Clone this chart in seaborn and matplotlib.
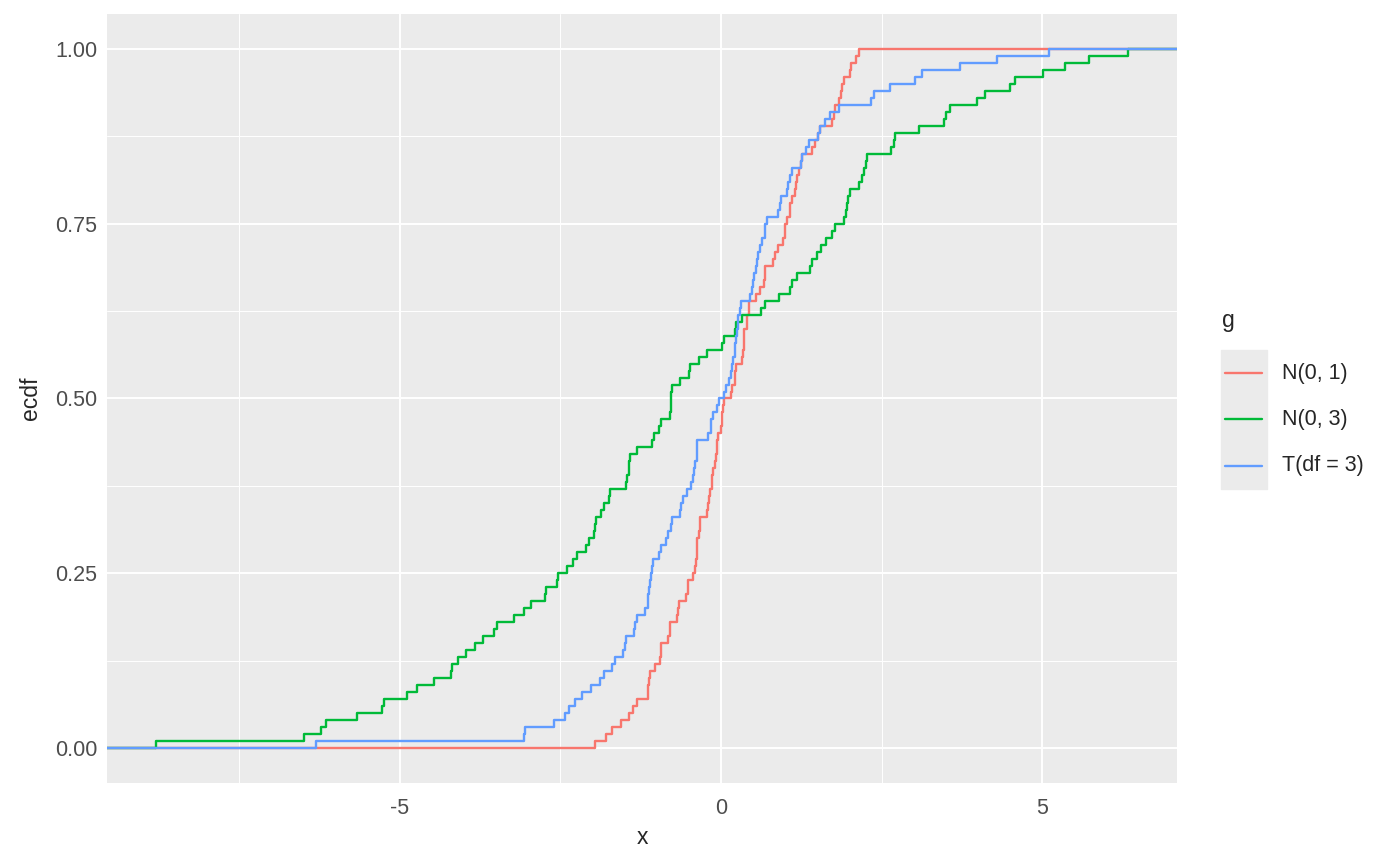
import numpy as np
import pandas as pd
import matplotlib
matplotlib.use("Agg")
import matplotlib.pyplot as plt
from matplotlib.lines import Line2D
import seaborn as sns

# values (100 points per group)
n01 = [-1.96, -1.79, -1.69, -1.56, -1.44, -1.37, -1.31, -1.14, -1.13, -1.12,
       -1.11, -1.03, -0.95, -0.94, -0.93, -0.83, -0.80, -0.79, -0.68, -0.67,
       -0.66, -0.54, -0.52, -0.51, -0.44, -0.40, -0.39, -0.38, -0.375, -0.37,
       -0.34, -0.335, -0.33, -0.22, -0.21, -0.18, -0.17, -0.14, -0.135, -0.13,
       -0.09, -0.08, -0.07, -0.06, -0.05, 0.00, 0.01, 0.02, 0.03, 0.04,
       0.16, 0.17, 0.22, 0.225, 0.23, 0.32, 0.34, 0.35, 0.355, 0.36,
       0.40, 0.41, 0.43, 0.44, 0.55, 0.60, 0.67, 0.68, 0.69, 0.81,
       0.84, 0.88, 0.96, 0.99, 1.00, 1.03, 1.07, 1.08, 1.10, 1.15,
       1.17, 1.19, 1.22, 1.25, 1.26, 1.41, 1.46, 1.51, 1.54, 1.72,
       1.76, 1.77, 1.83, 1.87, 1.88, 1.91, 2.00, 2.03, 2.10, 2.15]

n03 = [-8.80, -6.49, -6.23, -6.15, -5.66, -5.27, -5.24, -4.88, -4.73, -4.46,
       -4.21, -4.19, -4.10, -3.97, -3.83, -3.70, -3.53, -3.48, -3.23, -3.06,
       -2.96, -2.74, -2.72, -2.56, -2.53, -2.39, -2.30, -2.24, -2.10, -2.06,
       -1.98, -1.96, -1.94, -1.87, -1.82, -1.75, -1.73, -1.48, -1.47, -1.44,
       -1.43, -1.42, -1.31, -1.08, -1.04, -0.96, -0.93, -0.79, -0.785, -0.78,
       -0.775, -0.77, -0.64, -0.50, -0.48, -0.34, -0.22, 0.01, 0.04, 0.22,
       0.24, 0.32, 0.62, 0.69, 0.90, 1.07, 1.11, 1.19, 1.38, 1.41,
       1.49, 1.55, 1.63, 1.72, 1.77, 1.91, 1.94, 1.96, 1.98, 2.01,
       2.15, 2.19, 2.23, 2.25, 2.27, 2.65, 2.69, 2.71, 3.08, 3.47,
       3.50, 3.56, 3.99, 4.11, 4.49, 4.57, 5.01, 5.35, 5.72, 6.34]

t3 = [-6.30, -3.06, -3.05, -2.60, -2.43, -2.37, -2.27, -2.17, -2.03, -1.88,
      -1.82, -1.69, -1.65, -1.53, -1.49, -1.48, -1.36, -1.34, -1.31, -1.18,
      -1.14, -1.13, -1.12, -1.10, -1.09, -1.07, -1.06, -0.96, -0.94, -0.86,
      -0.83, -0.78, -0.77, -0.64, -0.63, -0.59, -0.53, -0.46, -0.43, -0.42,
      -0.40, -0.38, -0.375, -0.37, -0.20, -0.16, -0.15, -0.12, -0.07, -0.03,
      0.04, 0.08, 0.12, 0.15, 0.17, 0.19, 0.22, 0.225, 0.24, 0.245,
      0.26, 0.265, 0.30, 0.31, 0.45, 0.48, 0.50, 0.51, 0.55, 0.56,
      0.57, 0.61, 0.63, 0.68, 0.69, 0.71, 0.89, 0.92, 0.93, 1.02,
      1.05, 1.07, 1.10, 1.25, 1.26, 1.33, 1.37, 1.51, 1.54, 1.62,
      1.70, 1.83, 2.33, 2.38, 2.63, 3.02, 3.13, 3.72, 4.30, 5.11]

groups = ["N(0, 1)", "N(0, 3)", "T(df = 3)"]
colors = ["#F8766D", "#00BA38", "#619CFF"]
x_ticks = [-5, 0, 5]
y_ticks = [0.0, 0.25, 0.5, 0.75, 1.0]
y_labels = ["0.00", "0.25", "0.50", "0.75", "1.00"]

df = pd.DataFrame({
    "x": n01 + n03 + t3,
    "g": [groups[0]] * len(n01) + [groups[1]] * len(n03) + [groups[2]] * len(t3),
})

sns.set_style("darkgrid", {"axes.facecolor": "#EBEBEB", "grid.color": "white"})
plt.rcParams["font.family"] = ["Liberation Sans", "DejaVu Sans"]
plt.rcParams["axes.unicode_minus"] = False

fig = plt.figure(figsize=(14, 8.66), dpi=100)
ax = fig.add_axes([107 / 1400, 1 - 783 / 866, (1177 - 107) / 1400, (783 - 14) / 866])

# ggplot-style 5% expansion
lo, hi = df["x"].min(), df["x"].max()
pad = (hi - lo) * 0.05
xmin, xmax = lo - pad, hi + pad

for g, c in zip(groups, colors):
    sub = df[df["g"] == g]
    sns.ecdfplot(data=sub, x="x", color=c, lw=1.7, ax=ax)
    # stat_ecdf pads the steps out to -Inf / Inf
    ax.hlines(0, xmin, sub["x"].min(), color=c, lw=1.7)
    ax.hlines(1, sub["x"].max(), xmax, color=c, lw=1.7)

ax.set_xlim(xmin, xmax)
ax.set_ylim(-0.05, 1.05)
ax.set_xticks(x_ticks)
ax.set_xticklabels([str(v) for v in x_ticks])
ax.set_yticks(y_ticks)
ax.set_yticklabels(y_labels)
ax.set_xticks([-7.5, -2.5, 2.5], minor=True)
ax.set_yticks([0.125, 0.375, 0.625, 0.875], minor=True)
ax.grid(which="major", color="white", lw=1.4)
ax.grid(which="minor", color="white", lw=0.7)
ax.tick_params(which="major", length=4, width=1.1, color="#333333",
               labelsize=15.5, labelcolor="#4D4D4D")
ax.tick_params(axis="x", pad=7)
ax.tick_params(axis="y", pad=3)
ax.tick_params(which="minor", length=0)
for s in ax.spines.values():
    s.set_visible(False)
ax.set_xlabel("x", fontsize=16.5, va="center")
ax.set_ylabel("ecdf", fontsize=16.5, va="center")
ax.xaxis.set_label_coords(0.5, (783 - 838) / 769)
ax.yaxis.set_label_coords((30 - 107) / 1070, 0.5)

# legend drawn ggplot-like
fig.text(1222 / 1400, 1 - 321 / 866, "g", fontsize=16.5, va="center", ha="left")
fig.patches.append(plt.Rectangle((1221 / 1400, 1 - 489 / 866), 46 / 1400, 139 / 866,
                                 transform=fig.transFigure, color="#EBEBEB", zorder=0))
for i, (g, c) in enumerate(zip(groups, colors)):
    yy = 1 - (373 + 46.3 * i) / 866
    fig.add_artist(Line2D([1225 / 1400, 1262 / 1400], [yy, yy], color=c, lw=1.7,
                          transform=fig.transFigure))
    fig.text(1282 / 1400, yy, g, fontsize=15.5, va="center", ha="left")

fig.savefig("out.png", dpi=100)
